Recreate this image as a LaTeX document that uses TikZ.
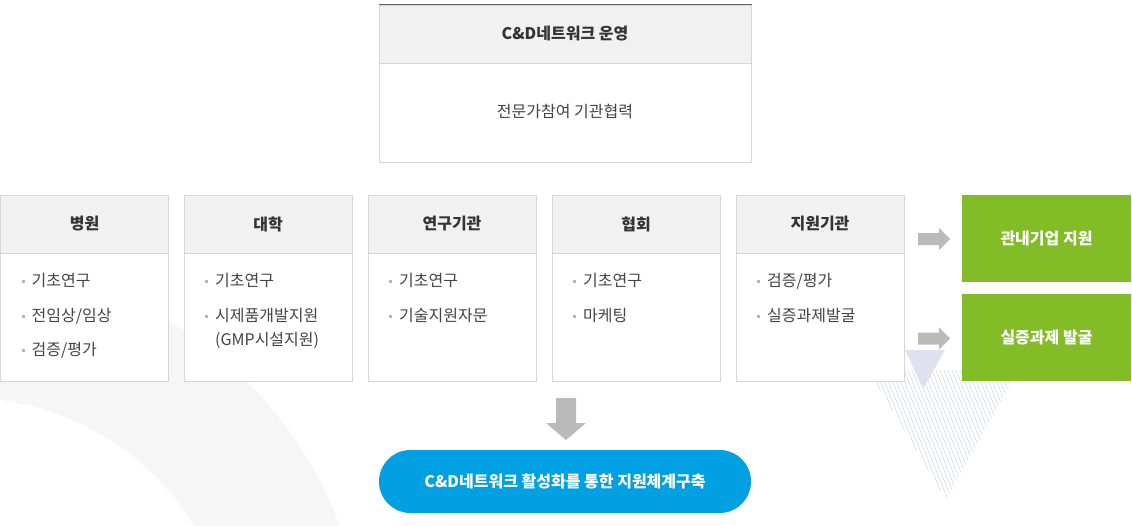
\documentclass[tikz,border=0pt]{standalone}
\usepackage{fontspec}
\setmainfont{Noto Sans CJK KR}
\definecolor{bordergray}{HTML}{D6D6D6}
\definecolor{hdrfill}{HTML}{F1F1F1}
\definecolor{textdark}{HTML}{333333}
\definecolor{bodytext}{HTML}{444444}
\definecolor{bulletc}{HTML}{B5B5B5}
\definecolor{arrowgray}{HTML}{BABABA}
\definecolor{greenbox}{HTML}{82BD27}
\definecolor{bluepill}{HTML}{00A0E2}
\definecolor{ringgray}{HTML}{F6F6F6}
\definecolor{trifill}{HTML}{DFE2EE}
\definecolor{hatchc}{HTML}{DDE0EC}
\definecolor{topline}{HTML}{666666}
\newcommand\myitem[4]{%
  \fill[bulletc] (#2+21,#3-1.5) rectangle ++(3,3);
  \node[item] (#1) at (#2+31,#3) {#4};}
\begin{document}
\begin{tikzpicture}[x=1pt,y=-1pt,
  base/.style={font=\fontsize{16}{19}\selectfont},
  hdr/.style={base, draw=bordergray, line width=1pt, fill=hdrfill, minimum width=168pt, minimum height=58pt, inner sep=0pt, font=\fontsize{16}{19}\selectfont\bfseries, text=textdark},
  bodybox/.style={draw=bordergray, line width=1pt, fill=white, minimum width=168pt, minimum height=128pt, inner sep=0pt},
  item/.style={base, anchor=west, inner sep=0pt, text=bodytext},
  greennode/.style={fill=greenbox, minimum width=169pt, minimum height=87pt, inner sep=0pt, text=white, font=\fontsize{16}{19}\selectfont\bfseries},
  blockarrow/.style={fill=arrowgray},
  hatch/.style={draw=hatchc, line width=0.8pt}]
\useasboundingbox (0,0) rectangle (1132,525);
% background ring
\begin{scope}
  \clip (0,0) rectangle (1132,525);
  \fill[ringgray, even odd rule] (-33,663) circle[radius=397pt] (-33,663) circle[radius=265pt];
\end{scope}
% hatched triangle
\begin{scope}
  \clip (868,370) -- (1018,370) -- (946,500) -- cycle;
  \foreach \i in {780,784,...,1024} \draw[hatch] (\i,360) -- ++(60,150);
\end{scope}
\fill[trifill] (905,350) -- (945,350) -- (923,389) -- cycle;
% top box
\node[hdr, minimum width=372pt] (toph) at (565,34) {C\&D네트워크 운영};
\node[bodybox, minimum width=372pt, minimum height=99pt] (topb) at (565,112.5) {};
\node[base, text=bodytext] (topt) at (565,111) {전문가참여 기관협력};
\draw[topline, line width=1.5pt] (toph.north west) -- (toph.north east);
% five boxes
\node[hdr] (h1) at (84.5,224) {병원};
\node[bodybox] (b1) at (84.5,317) {};
\node[hdr] (h2) at (268,224) {대학};
\node[bodybox] (b2) at (268,317) {};
\node[hdr] (h3) at (452,224) {연구기관};
\node[bodybox] (b3) at (452,317) {};
\node[hdr] (h4) at (636,224) {협회};
\node[bodybox] (b4) at (636,317) {};
\node[hdr] (h5) at (820,224) {지원기관};
\node[bodybox] (b5) at (820,317) {};
% items
\myitem{i11}{0.5}{281}{기초연구}
\myitem{i12}{0.5}{316}{전임상/임상}
\myitem{i13}{0.5}{350}{검증/평가}
\myitem{i21}{184}{281}{기초연구}
\myitem{i22}{184}{316}{시제품개발지원}
\node[item] (i23) at (215,340) {(GMP시설지원)};
\myitem{i31}{368}{281}{기초연구}
\myitem{i32}{368}{316}{기술지원자문}
\myitem{i41}{552}{281}{기초연구}
\myitem{i42}{552}{316}{마케팅}
\myitem{i51}{736}{281}{검증/평가}
\myitem{i52}{736}{316}{실증과제발굴}
% green boxes
\node[greennode] (g1) at (1046.5,238.5) {관내기업 지원};
\node[greennode] (g2) at (1046.5,337.5) {실증과제 발굴};
% right arrows
\fill[blockarrow] (918,233) -- (939,233) -- (939,228) -- (950,239) -- (939,250) -- (939,245) -- (918,245) -- cycle;
\fill[blockarrow] (918,332.5) -- (939,332.5) -- (939,327.5) -- (950,338.5) -- (939,349.5) -- (939,344.5) -- (918,344.5) -- cycle;
% down arrow
\fill[blockarrow] (556,398) -- (576,398) -- (576,423) -- (586,423) -- (566,440) -- (546,423) -- (556,423) -- cycle;
% pill
\node[fill=bluepill, rounded corners=31.5pt, minimum width=372pt, minimum height=63pt, inner sep=0pt, text=white, font=\fontsize{16}{19}\selectfont\bfseries] (pill) at (565,481.5) {C\&D네트워크 활성화를 통한 지원체계구축};
\end{tikzpicture}
\end{document}
